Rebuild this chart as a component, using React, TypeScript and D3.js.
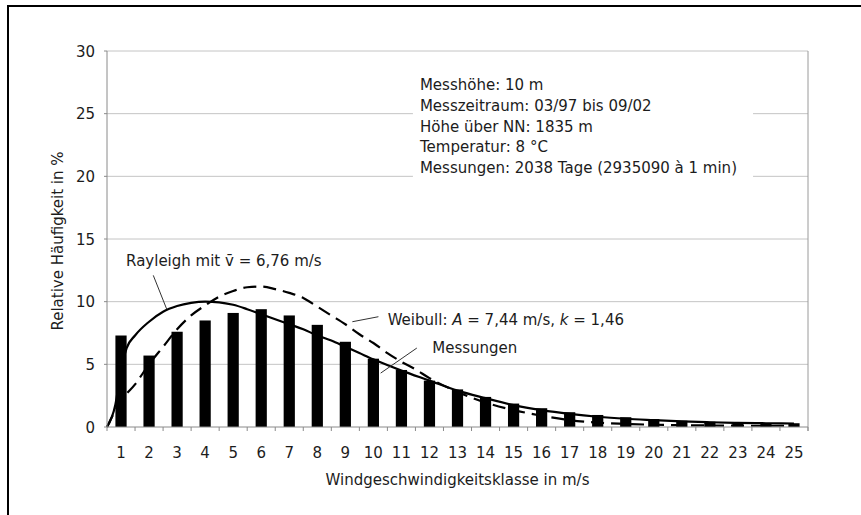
import React from "react";
import * as d3 from "d3";

// wind speed classes (m/s)
const classes = ["1", "2", "3", "4", "5", "6", "7", "8", "9", "10", "11", "12", "13",
  "14", "15", "16", "17", "18", "19", "20", "21", "22", "23", "24", "25"];

// measured relative frequency per class (%)
const measured = [7.3, 5.7, 7.6, 8.5, 9.1, 9.4, 8.9, 8.15, 6.8, 5.45, 4.55, 3.7, 3.0,
  2.4, 1.87, 1.5, 1.18, 0.96, 0.78, 0.63, 0.5, 0.42, 0.36, 0.32, 0.3];

// Rayleigh curve (position in class units, %)
const rayleighPos = [0.5, 0.8, 1.0, 1.2, 1.5, 2, 2.5, 3, 3.5, 4, 4.5, 5, 5.5, 6, 6.5, 7, 7.5,
  8, 8.5, 9, 9.5, 10, 11, 12, 13, 14, 15, 16, 17, 18, 19, 20, 21, 22, 23, 24, 25];
const rayleighVal = [0, 1.8, 4.6, 6.3, 7.3, 8.4, 9.2, 9.65, 9.9, 10.0, 9.95, 9.75, 9.4, 9.0,
  8.6, 8.2, 7.8, 7.3, 6.9, 6.4, 5.9, 5.4, 4.5, 3.7, 2.9, 2.3, 1.75, 1.35, 1.05, 0.82, 0.66,
  0.55, 0.45, 0.38, 0.33, 0.3, 0.28];

// Weibull curve
const weibullPos = [0.5, 1, 1.5, 2, 2.5, 3, 3.5, 4, 4.5, 5, 5.5, 6, 6.5, 7, 7.5, 8, 8.5, 9,
  9.5, 10, 10.5, 11, 11.5, 12, 13, 14, 15, 16, 17, 18, 19, 20, 21, 22, 23, 24, 25];
const weibullVal = [0, 2.1, 3.4, 5.0, 6.4, 7.8, 8.9, 9.7, 10.4, 10.85, 11.15, 11.2, 11.0,
  10.7, 10.3, 9.6, 8.9, 8.2, 7.4, 6.7, 5.9, 5.2, 4.6, 3.9, 2.8, 1.95, 1.35, 0.9, 0.55, 0.35,
  0.25, 0.18, 0.14, 0.12, 0.1, 0.1, 0.1];

const yTicks = [0, 5, 10, 15, 20, 25, 30];

const infoLines = [
  "Messhöhe: 10 m",
  "Messzeitraum: 03/97 bis 09/02",
  "Höhe über NN: 1835 m",
  "Temperatur: 8 °C",
  "Messungen: 2038 Tage (2935090 à 1 min)",
];

const W = 861;
const H = 515;
const plot = { left: 107, right: 808, top: 51, bottom: 427 };
const font = "'DejaVu Sans', sans-serif";
const ink = "#1c1c1c";

export default function App() {
  const xBand = d3.scaleBand<string>()
    .domain(classes)
    .range([plot.left, plot.right])
    .paddingInner(0.6)
    .paddingOuter(0.3);
  const x = d3.scaleLinear().domain([0.5, classes.length + 0.5]).range([plot.left, plot.right]);
  const y = d3.scaleLinear().domain([0, 30]).range([plot.bottom, plot.top]);

  const line = d3.line<[number, number]>()
    .x(d => x(d[0]))
    .y(d => y(d[1]))
    .curve(d3.curveMonotoneX);

  const rayleigh = rayleighPos.map((p, i) => [p, rayleighVal[i]] as [number, number]);
  const weibull = weibullPos.map((p, i) => [p, weibullVal[i]] as [number, number]);

  const bounds = d3.range(0, classes.length + 1).map(i => x(i + 0.5));

  return (
    <div style={{ position: "absolute", left: 0, top: 0 }}>
      <svg width={W} height={H} style={{ display: "block", background: "#fff" }}
        fontFamily={font} fill={ink}>
        <rect x={8} y={6} width={W + 20} height={H + 20} fill="none" stroke="#000" strokeWidth={2} />

        {/* grid */}
        {yTicks.filter(t => t > 0).map(t => (
          <line key={t} x1={plot.left} x2={plot.right} y1={y(t)} y2={y(t)} stroke="#c4c4c4" strokeWidth={1} />
        ))}
        <line x1={plot.right} x2={plot.right} y1={plot.top} y2={plot.bottom + 4} stroke="#9a9a9a" />

        {/* info box */}
        <rect x={x(11.41)} y={y(28.5)} width={x(23.54) - x(11.41)} height={y(18.5) - y(28.5)} fill="#fff" />
        {infoLines.map((s, i) => (
          <text key={i} x={x(11.66)} y={y(26.85) + i * 20.6} fontSize={15}>{s}</text>
        ))}

        {/* bars */}
        {classes.map((c, i) => (
          <rect key={c} x={xBand(c)} y={y(measured[i])} width={xBand.bandwidth()}
            height={y(0) - y(measured[i])} fill="#000" />
        ))}

        {/* curves */}
        <path d={line(weibull) || ""} fill="none" stroke="#000" strokeWidth={2.2} strokeDasharray="13,7" />
        <path d={line(rayleigh) || ""} fill="none" stroke="#000" strokeWidth={2.2} />

        {/* axes */}
        <line x1={plot.left} x2={plot.left} y1={plot.top} y2={plot.bottom} stroke="#8a8a8a" />
        <line x1={plot.left} x2={plot.right} y1={plot.bottom} y2={plot.bottom} stroke="#8a8a8a" />
        {bounds.map((bx, i) => (
          <line key={i} x1={bx} x2={bx} y1={plot.bottom} y2={plot.bottom + 4} stroke="#8a8a8a" />
        ))}
        {yTicks.map(t => (
          <g key={t}>
            <line x1={plot.left - 3} x2={plot.left} y1={y(t)} y2={y(t)} stroke="#8a8a8a" />
            <text x={plot.left - 12} y={y(t) + 5.5} fontSize={15} textAnchor="end">{t}</text>
          </g>
        ))}
        {classes.map(c => (
          <text key={c} x={(xBand(c) || 0) + xBand.bandwidth() / 2} y={plot.bottom + 31}
            fontSize={15} textAnchor="middle">{c}</text>
        ))}
        <text x={(plot.left + plot.right) / 2} y={plot.bottom + 58} fontSize={15} textAnchor="middle">
          Windgeschwindigkeitsklasse in m/s
        </text>
        <text transform={`translate(63,${(plot.top + plot.bottom) / 2 + 2}) rotate(-90)`} fontSize={15}
          textAnchor="middle">Relative Häufigkeit in %</text>

        {/* annotations */}
        <line x1={x(2.15)} y1={y(12.1)} x2={x(2.63)} y2={y(9.4)} stroke="#333" />
        <text x={x(1.18)} y={y(12.85)} fontSize={15}>{"Rayleigh mit v\u0304 = 6,76 m/s"}</text>

        <line x1={x(9.25)} y1={y(8.4)} x2={x(10.18)} y2={y(8.8)} stroke="#333" />
        <text x={x(10.51)} y={y(8.14)} fontSize={15}>
          {"Weibull: "}<tspan fontStyle="italic">A</tspan>{" = 7,44 m/s, "}<tspan fontStyle="italic">k</tspan>{" = 1,46"}
        </text>

        <line x1={x(10.26)} y1={y(4.3)} x2={x(11.55)} y2={y(6.3)} stroke="#333" />
        <text x={x(12.1)} y={y(5.9)} fontSize={15}>Messungen</text>
      </svg>
    </div>
  );
}
